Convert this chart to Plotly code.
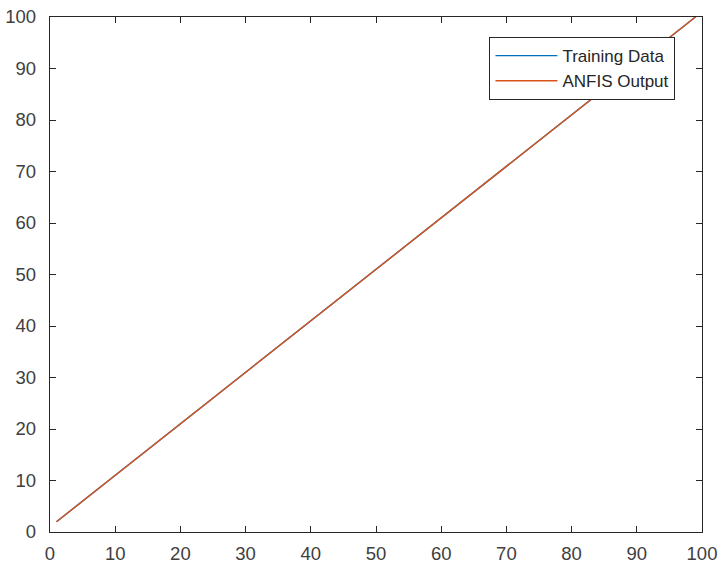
import plotly.graph_objects as go

x_vals = [1, 99]
training_y = [2, 100]
anfis_y = [2, 100]
series_names = ["Training Data", "ANFIS Output"]

fig = go.Figure()
fig.add_trace(go.Scatter(x=x_vals, y=training_y, mode="lines", name=series_names[0],
                         line=dict(color="#0072BD", width=1.4)))
fig.add_trace(go.Scatter(x=x_vals, y=anfis_y, mode="lines", name=series_names[1],
                         line=dict(color="#D95319", width=1.4)))

axis_common = dict(range=[0, 100], dtick=10, tick0=0, showgrid=False, zeroline=False,
                   showline=True, linecolor="#262626", linewidth=1.3, mirror="ticks",
                   ticks="inside", ticklen=6, tickwidth=1, tickcolor="#262626",
                   automargin=False,
                   tickfont=dict(family="Liberation Sans, Arial", size=18.5, color="#404040"))

fig.update_layout(
    width=719, height=565,
    margin=dict(l=50, r=17, t=17, b=33),
    paper_bgcolor="white", plot_bgcolor="white",
    xaxis=dict(axis_common, ticklabelstandoff=5),
    yaxis=dict(axis_common, ticklabelstandoff=9),
    legend=dict(x=0.674, y=0.961, xanchor="left", yanchor="top",
                bordercolor="#262626", borderwidth=1, bgcolor="white",
                font=dict(family="Liberation Sans, Arial", size=17, color="#262626"),
                tracegroupgap=0, itemwidth=62),
    showlegend=True,
)
fig.write_html("out.html")
